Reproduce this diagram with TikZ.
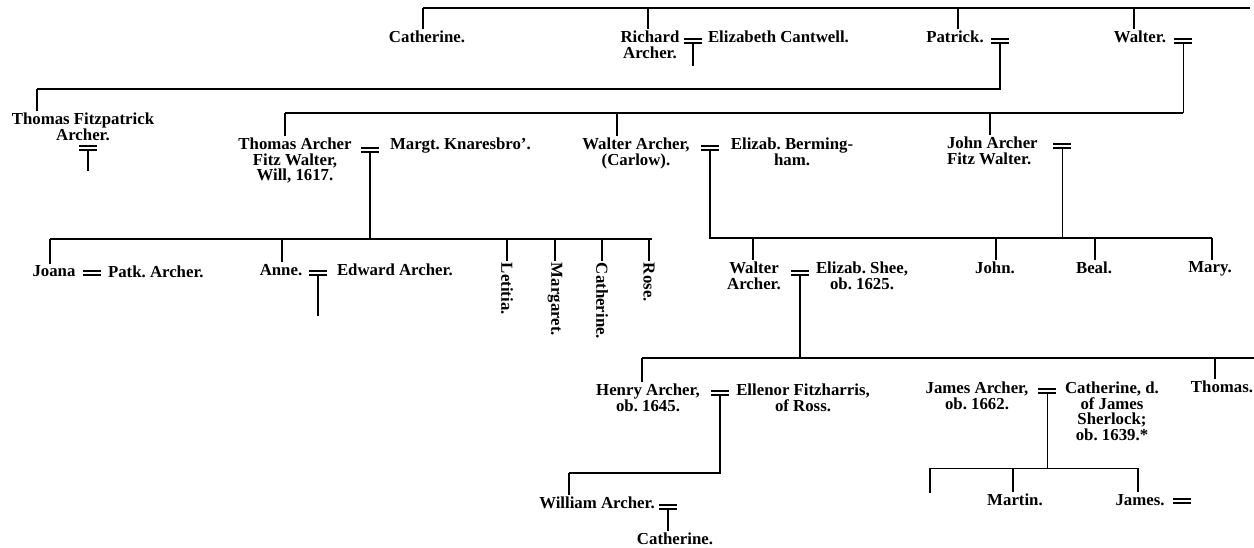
\documentclass[tikz,border=0pt]{standalone}
\usepackage{fontspec}
\setmainfont{Liberation Serif}
\newcommand\genfont{\fontsize{16.8}{15.6}\selectfont\bfseries\frenchspacing}
\tikzset{
  person/.style={inner sep=0pt, outer sep=2pt, anchor=north, align=center, font=\genfont},
  bar/.style={line width=1.4pt},
  thinl/.style={line width=0.7pt},
  eqline/.style={line width=1.3pt},
  marr/.style={minimum width=18pt, minimum height=4.2pt, inner sep=0pt, outer sep=0pt,
    append after command={(\tikzlastnode.north west) edge[eqline] (\tikzlastnode.north east)
      (\tikzlastnode.south west) edge[eqline] (\tikzlastnode.south east)}}
}
\begin{document}
\begin{tikzpicture}[x=1pt,y=-1pt]
\useasboundingbox (0,0) rectangle (1254,548);
% ---------- top row ----------
\node[person] (cath1) at (427,29) {Catherine.};
\node[person] (rich) at (650,29) {Richard\\Archer.};
\node[marr] (eqR) at (693,41) {};
\node[person, anchor=north west] (elizC) at (706,29) {Elizabeth Cantwell.};
\node[person] (pat) at (955,29) {Patrick.};
\node[marr] (eqP) at (1000,41) {};
\node[person] (walt) at (1140,29) {Walter.};
\node[marr] (eqW) at (1183,41) {};
\coordinate (A0) at (423,8);
\coordinate (A1) at (1250,8);
\coordinate (tA2) at (648,8);
\coordinate (tA3) at (958,8);
\coordinate (tA4) at (1134,8);
\coordinate (rEnd) at (693,66);
\draw[bar] (A0) -- (A1);
\draw[bar] (A0) -- (A0 |- cath1.north);
\draw[bar] (tA2) -- (tA2 |- rich.north);
\draw[bar] (tA3) -- (tA3 |- pat.north);
\draw[bar] (tA4) -- (tA4 |- walt.north);
\draw[bar] (eqR.south) -- (rEnd);
% ---------- Patrick's line ----------
\coordinate (B0) at (37,89);
\draw[bar] (eqP.south) |- (B0);
\node[person] (tf) at (83,111) {Thomas Fitzpatrick\\Archer.};
\draw[bar] (B0) -- (B0 |- tf.north);
\node[marr] (eqTF) at (88,148) {};
\coordinate (tfEnd) at (88,171);
\draw[bar] (eqTF.south) -- (tfEnd);
% ---------- Walter's line ----------
\coordinate (C0) at (285,113);
\coordinate (tC2) at (617,113);
\coordinate (tC3) at (990,113);
\draw[thinl] (eqW.south) -- (eqW.south |- C0);
\draw[bar] (C0) -- (eqW.south |- C0);
\node[person] (ta) at (295,136) {Thomas Archer\\Fitz Walter,\\Will, 1617.};
\node[marr] (eqTA) at (370,150) {};
\node[person, anchor=north west] (marg) at (388,136) {Margt. Knaresbro'.};
\node[person] (wa) at (636,136) {Walter Archer,\\(Carlow).};
\node[marr] (eqWA) at (710,148) {};
\node[person] (eb) at (792,136) {Elizab. Berming-\\ham.};
\node[person, align=left, anchor=north west] (ja) at (945,135) {John Archer\\Fitz Walter.};
\node[marr] (eqJA) at (1062,146) {};
\draw[bar] (C0) -- (C0 |- ta.north);
\draw[bar] (tC2) -- (tC2 |- wa.north);
\draw[bar] (tC3) -- (tC3 |- ja.north);
% ---------- Thomas Archer's children ----------
\coordinate (D0) at (50,239);
\coordinate (D1) at (652,239);
\coordinate (tD2) at (282,239);
\coordinate (tD3) at (507,239);
\coordinate (tD4) at (555,239);
\coordinate (tD5) at (602,239);
\coordinate (tD6) at (649,239);
\draw[bar] (eqTA.south) -- (eqTA.south |- D0);
\draw[bar] (D0) -- (D1);
\node[person] (joana) at (54,264) {Joana};
\node[marr] (eqJo) at (92,273) {};
\node[person, anchor=north west] (patk) at (106,264) {Patk. Archer.};
\node[person] (anne) at (281,262) {Anne.};
\node[marr] (eqAn) at (318,273) {};
\coordinate (anEnd) at (318,316);
\node[person, anchor=north west] (edw) at (335,262) {Edward Archer.};
\node[person, rotate=-90, anchor=west] (let) at (507,261) {Letitia.};
\node[person, rotate=-90, anchor=west] (marga) at (555,261) {Margaret.};
\node[person, rotate=-90, anchor=west] (cath2) at (602,261) {Catherine.};
\node[person, rotate=-90, anchor=west] (rose) at (649,261) {Rose.};
\draw[bar] (D0) -- (D0 |- joana.north);
\draw[bar] (tD2) -- (tD2 |- anne.north);
\draw[bar] (eqAn.south) -- (anEnd);
\draw[bar] (tD3) -- (tD3 |- let.west);
\draw[bar] (tD4) -- (tD4 |- marga.west);
\draw[bar] (tD5) -- (tD5 |- cath2.west);
\draw[bar] (tD6) -- (tD6 |- rose.west);
% ---------- Walter Archer's children ----------
\coordinate (D3) at (1212,238);
\coordinate (tD7) at (753,238);
\coordinate (tD8) at (996,238);
\coordinate (tD9) at (1095,238);
\draw[bar] (eqWA.south) |- (D3);
\draw[thinl] (eqJA.south) -- (eqJA.south |- D3);
\node[person] (was) at (754,260) {Walter\\Archer.};
\node[marr] (eqWS) at (800,273) {};
\node[person] (es) at (862,260) {Elizab. Shee,\\ob. 1625.};
\node[person] (john) at (995,260) {John.};
\node[person] (beal) at (1094,260) {Beal.};
\node[person] (mary) at (1210,260) {Mary.};
\draw[bar] (tD7) -- (tD7 |- was.north);
\draw[bar] (tD8) -- (tD8 |- john.north);
\draw[bar] (tD9) -- (tD9 |- beal.north);
\draw[bar] (D3) -- (D3 |- mary.north);
% ---------- Walter Archer (son)'s children ----------
\coordinate (E0) at (642,358);
\coordinate (E1) at (1254,358);
\coordinate (tE2) at (1215,358);
\draw[bar] (eqWS.south) -- (eqWS.south |- E0);
\draw[bar] (E0) -- (E1);
\node[person] (hen) at (648,382) {Henry Archer,\\ob. 1645.};
\node[marr] (eqH) at (720,393) {};
\node[person] (ell) at (803,382) {Ellenor Fitzharris,\\of Ross.};
\node[person] (jam) at (977,380) {James Archer,\\ob. 1662.};
\node[marr] (eqJ) at (1047,391) {};
\node[person] (cs) at (1112,380) {Catherine, d.\\of James\\Sherlock;\\ob. 1639.*};
\node[person] (tho) at (1222,379) {Thomas.};
\draw[bar] (E0) -- (E0 |- hen.north);
\draw[bar] (tE2) -- (tE2 |- tho.north);
% ---------- Henry's line ----------
\coordinate (F0) at (569,473);
\draw[bar] (eqH.south) |- (F0);
\node[person] (wil) at (597,495) {William Archer.};
\node[marr] (eqWi) at (668,507) {};
\node[person] (cat3) at (675,531) {Catherine.};
\draw[bar] (F0) -- (F0 |- wil.north);
\draw[bar] (eqWi.south) -- (eqWi.south |- cat3.north);
% ---------- James's line ----------
\coordinate (F2) at (930,468);
\coordinate (F3) at (1138,468);
\coordinate (tF2) at (1013,468);
\coordinate (tF1end) at (930,493);
\draw[thinl] (eqJ.south) -- (eqJ.south |- F2);
\draw[thinl] (F2) -- (F3);
\node[person] (mar) at (1015,492) {Martin.};
\node[person] (jms) at (1140,492) {James.};
\node[marr] (eqJs) at (1182,501) {};
\draw[bar] (F2) -- (tF1end);
\draw[bar] (tF2) -- (tF2 |- mar.north);
\draw[bar] (F3) -- (F3 |- jms.north);
\end{tikzpicture}
\end{document}
